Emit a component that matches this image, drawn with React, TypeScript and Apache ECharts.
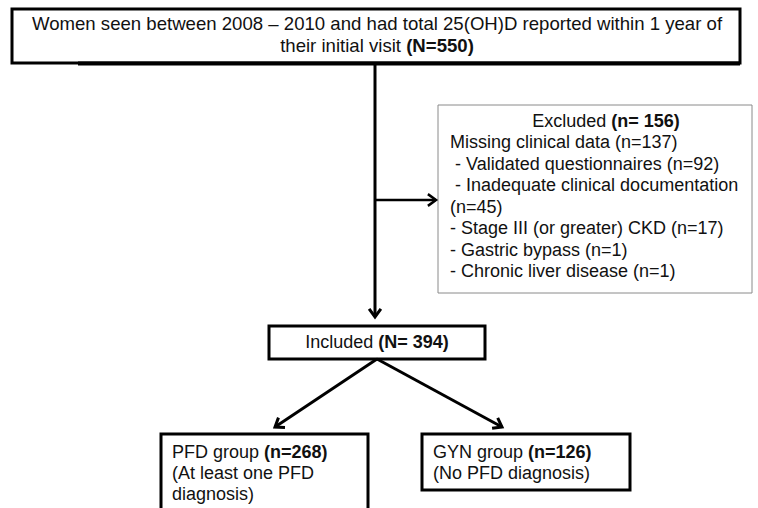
import React, { useEffect, useRef } from "react";
import * as echarts from "echarts";

const topLines = [
  "Women seen between 2008 – 2010 and had total 25(OH)D reported within 1 year of",
  "their initial visit {b|(N=550)}",
];
const excludedTitle = "Excluded {b|(n= 156)}";
const excludedLines = [
  "Missing clinical data (n=137)",
  " - Validated questionnaires (n=92)",
  " - Inadequate clinical documentation",
  "(n=45)",
  "- Stage III (or greater) CKD (n=17)",
  "- Gastric bypass (n=1)",
  "- Chronic liver disease (n=1)",
];
const includedText = "Included {b|(N= 394)}";
const pfdLines = ["PFD group {b|(n=268)}", "(At least one PFD", "diagnosis)"];
const gynLines = ["GYN group {b|(n=126)}", "(No PFD diagnosis)"];

const FONT = "Liberation Sans, Arial, Helvetica, sans-serif";

function txt(text: string, x: number, y: number, align: string, size = 18): any {
  return {
    type: "text",
    x,
    y,
    style: {
      text,
      fill: "#111",
      fontSize: size,
      fontFamily: FONT,
      textAlign: align,
      textVerticalAlign: "middle",
      rich: { b: { fontWeight: "bold", fontSize: size, fontFamily: FONT, fill: "#111" } },
    },
    z: 10,
  };
}

function line(x1: number, y1: number, x2: number, y2: number, w = 3): any {
  return {
    type: "line",
    shape: { x1, y1, x2, y2 },
    style: { stroke: "#000", lineWidth: w },
    z: 5,
  };
}

function head(x1: number, y1: number, x2: number, y2: number, w = 3): any {
  const a = Math.atan2(y2 - y1, x2 - x1);
  const L = 10;
  const s = Math.PI / 5;
  return {
    type: "polyline",
    shape: {
      points: [
        [x2 - L * Math.cos(a - s), y2 - L * Math.sin(a - s)],
        [x2, y2],
        [x2 - L * Math.cos(a + s), y2 - L * Math.sin(a + s)],
      ],
    },
    style: { stroke: "#000", lineWidth: w, fill: null },
    z: 6,
  };
}

function box(x: number, y: number, w: number, h: number, stroke = "#000", lw = 3): any {
  return {
    type: "rect",
    shape: { x, y, width: w, height: h },
    style: { stroke, lineWidth: lw, fill: "#fff" },
    z: 1,
  };
}

export default function App() {
  const ref = useRef<HTMLDivElement>(null);
  useEffect(() => {
    document.body.style.margin = "0";
    const chart = echarts.init(ref.current!, null, { renderer: "svg" });
    const elements: any[] = [];
    // top box
    elements.push(box(12, 9, 728, 54));
    elements.push(line(78, 63.5, 740, 63.5, 4));
    elements.push(txt(topLines[0], 377, 23, "center", 18.6));
    elements.push(txt(topLines[1], 377, 45, "center", 18.6));
    // vertical trunk
    elements.push(line(375, 63, 375, 317));
    elements.push(head(375, 63, 375, 317));
    // branch to excluded
    elements.push(line(375, 200, 436, 200, 2.5));
    elements.push(head(375, 200, 436, 200, 2.5));
    // excluded box
    elements.push(box(438, 105, 314, 188, "#8a8a8a", 1));
    elements.push(txt(excludedTitle, 606, 121, "center"));
    excludedLines.forEach((t, i) => {
      elements.push(txt(t, 450, 142 + i * 21.5, "left"));
    });
    // included box
    elements.push(box(269, 326, 216, 33));
    elements.push(txt(includedText, 377, 342, "center"));
    // diagonal arrows
    elements.push(line(377, 359, 275, 427));
    elements.push(head(377, 359, 275, 427));
    elements.push(line(377, 359, 502, 427));
    elements.push(head(377, 359, 502, 427));
    // PFD box
    elements.push(box(161, 434, 207, 100));
    pfdLines.forEach((t, i) => elements.push(txt(t, 172, 452 + i * 21, "left")));
    // GYN box
    elements.push(box(422, 434, 208, 56));
    gynLines.forEach((t, i) => elements.push(txt(t, 433, 452 + i * 21, "left")));

    chart.setOption({
      animation: false,
      backgroundColor: "#fff",
      graphic: { elements },
    });
    return () => chart.dispose();
  }, []);
  return <div ref={ref} style={{ width: 758, height: 508 }} />;
}
